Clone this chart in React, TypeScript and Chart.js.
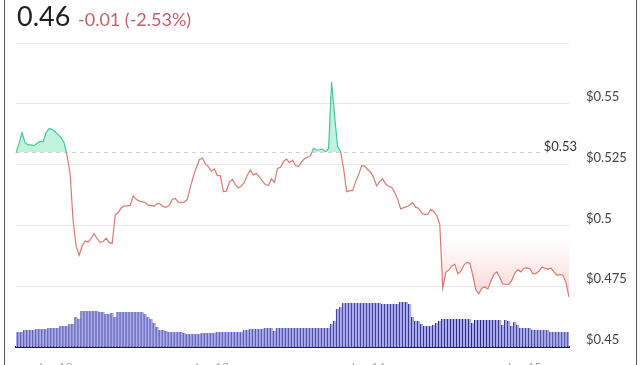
import { useEffect, useRef } from "react";
import { Chart, registerables } from "chart.js";

Chart.register(...registerables);

// ---- data ----
const PRICES = [
  0.5298, 0.5336, 0.5381, 0.534, 0.5331, 0.5331, 0.5328, 0.5338, 0.5346, 0.5344,
  0.5381, 0.5398, 0.5395, 0.5385, 0.5373, 0.5361, 0.534, 0.5287, 0.5213, 0.502,
  0.4914, 0.4877, 0.4914, 0.4936, 0.4932, 0.4947, 0.4966, 0.4945, 0.493, 0.4934,
  0.4947, 0.493, 0.4926, 0.5043, 0.5053, 0.5072, 0.508, 0.508, 0.5082, 0.5121,
  0.5107, 0.51, 0.5097, 0.5094, 0.5082, 0.5082, 0.5078, 0.509, 0.5088, 0.5076,
  0.5075, 0.5082, 0.5107, 0.5111, 0.5096, 0.5095, 0.5096, 0.5107, 0.5156, 0.5201,
  0.5238, 0.527, 0.5277, 0.5253, 0.5242, 0.5223, 0.5232, 0.5205, 0.5205, 0.5139,
  0.5141, 0.5178, 0.5189, 0.5168, 0.5154, 0.5162, 0.5178, 0.5207, 0.5227, 0.5207,
  0.5213, 0.5199, 0.5182, 0.5168, 0.5164, 0.5191, 0.5177, 0.5234, 0.5239, 0.5262,
  0.5273, 0.5258, 0.5268, 0.5246, 0.5242, 0.526, 0.5275, 0.528, 0.5287, 0.5317,
  0.531, 0.5311, 0.5314, 0.5303, 0.5316, 0.559, 0.5451, 0.5324, 0.5303, 0.5234,
  0.5139, 0.5143, 0.5143, 0.518, 0.5209, 0.5246, 0.5244, 0.523, 0.5219, 0.5197,
  0.5162, 0.518, 0.5191, 0.517, 0.516, 0.5157, 0.5135, 0.5107, 0.5068, 0.5073,
  0.5077, 0.5084, 0.5094, 0.5075, 0.507, 0.5051, 0.5045, 0.5045, 0.5066, 0.5057,
  0.5041, 0.5004, 0.4742, 0.4807, 0.4816, 0.4832, 0.484, 0.4801, 0.4811, 0.4836,
  0.4848, 0.4844, 0.4795, 0.4734, 0.4719, 0.4742, 0.4747, 0.4738, 0.477, 0.4799,
  0.4809, 0.4785, 0.4758, 0.4758, 0.4757, 0.4775, 0.4805, 0.4818, 0.4809, 0.4824,
  0.4825, 0.4822, 0.4801, 0.4803, 0.4811, 0.4828, 0.4824, 0.482, 0.4824, 0.4809,
  0.4795, 0.4798, 0.4795, 0.4765, 0.4705,
];

const VOLUMES = [
  15, 15, 15, 17, 17, 17, 17, 18, 18, 18,
  18, 19, 19, 19, 19, 21, 21, 21, 23, 23,
  30, 28, 36, 36, 36, 36, 36, 36, 35, 35,
  33, 33, 34, 30, 35, 35, 35, 35, 35, 35,
  35, 35, 35, 33, 30, 28, 24, 20, 17, 17,
  16, 15, 15, 15, 15, 15, 14, 13, 13, 13,
  13, 13, 14, 14, 14, 14, 14, 15, 15, 15,
  15, 15, 15, 15, 15, 15, 17, 17, 18, 18,
  18, 18, 18, 19, 19, 19, 16, 19, 19, 19,
  19, 19, 19, 19, 19, 19, 19, 19, 19, 19,
  19, 19, 19, 19, 19, 23, 26, 38, 40, 44,
  44, 44, 44, 44, 44, 44, 44, 44, 44, 44,
  44, 44, 43, 43, 43, 43, 43, 43, 45, 45,
  45, 43, 30, 26, 26, 23, 21, 21, 21, 22,
  24, 26, 28, 28, 28, 28, 28, 28, 28, 28,
  28, 28, 24, 27, 27, 27, 27, 27, 27, 27,
  27, 27, 22, 27, 26, 21, 25, 22, 19, 19,
  19, 19, 17, 17, 17, 17, 17, 17, 15, 15,
  15, 15, 15, 15, 15,
];

const REF_PRICE = 0.53;
const REF_LABEL = "$0.53";
const Y_MIN = 0.45;
const Y_MAX = 0.575;
const Y_STEP = 0.025;
const VOLUME_MAX = 304;
const X_TICK_INDEX = [13, 65, 117, 169];
const X_TICK_LABELS = ["Jun 12", "Jun 13", "Jun 14", "Jun 15"];
const LAST_PRICE = "0.46";
const CHANGE_TEXT = "-0.01 (-2.53%)";

const GREEN = "#46c99b";
const RED = "#d87a74";
const GREEN_FILL = "rgba(80, 215, 165, 0.35)";
const FONT = "Lato, 'Open Sans', sans-serif";

export default function App() {
  const ref = useRef<HTMLCanvasElement | null>(null);

  useEffect(() => {
    const canvas = ref.current;
    if (!canvas) return;

    const overlay = {
      id: "overlay",
      beforeDatasetDraw(chart: any, args: any) {
        if (args.index !== 0) return;
        const { ctx, chartArea, scales } = chart;
        const y = scales.y.getPixelForValue(REF_PRICE);
        const row = Math.floor(y);
        ctx.save();
        ctx.font = `13px ${FONT}`;
        const tw = ctx.measureText(REF_LABEL).width;
        const textRight = chartArea.right + 8;
        // clear the fill seam on the reference row, then draw the dashed line
        ctx.fillStyle = "#fff";
        ctx.fillRect(chartArea.left, row, chartArea.right - chartArea.left, 1);
        ctx.strokeStyle = "#d0d0d0";
        ctx.lineWidth = 1;
        ctx.setLineDash([4, 4]);
        ctx.beginPath();
        ctx.moveTo(chartArea.left, row + 0.5);
        ctx.lineTo(textRight - tw - 4, row + 0.5);
        ctx.stroke();
        ctx.setLineDash([]);
        ctx.fillStyle = "#333";
        ctx.textAlign = "right";
        ctx.textBaseline = "alphabetic";
        ctx.fillText(REF_LABEL, textRight, y - 1);
        ctx.restore();
      },
      afterDraw(chart: any) {
        const { ctx } = chart;
        ctx.save();
        ctx.textBaseline = "alphabetic";
        ctx.textAlign = "left";
        ctx.fillStyle = "#1f1f1f";
        ctx.font = `400 27px ${FONT}`;
        ctx.fillText(LAST_PRICE, 17, 26);
        ctx.fillStyle = "#c4606a";
        ctx.font = `400 18px ${FONT}`;
        ctx.fillText(CHANGE_TEXT, 78, 26);
        ctx.restore();
      },
    };

    const chart = new Chart(canvas, {
      type: "line",
      data: {
        labels: PRICES.map((_, i) => String(i)),
        datasets: [
          {
            type: "line",
            data: PRICES,
            yAxisID: "y",
            borderColor: RED,
            borderWidth: 1.2,
            pointRadius: 0,
            pointHoverRadius: 0,
            tension: 0,
            fill: { target: { value: REF_PRICE }, above: GREEN_FILL, below: "rgba(0,0,0,0)" },
            order: 0,
          } as any,
          {
            type: "bar",
            data: VOLUMES,
            yAxisID: "yv",
            backgroundColor: "#aaaaf3",
            borderColor: "#2c2c7c",
            borderWidth: { left: 1, top: 0, right: 0, bottom: 0 },
            borderSkipped: false,
            categoryPercentage: 1,
            barPercentage: 1,
            order: 1,
          } as any,
        ],
      },
      options: {
        responsive: false,
        devicePixelRatio: 1,
        animation: false,
        layout: { padding: { left: 16, top: 43, right: 0, bottom: 0 } },
        plugins: { legend: { display: false }, tooltip: { enabled: false } },
        scales: {
          x: {
            type: "category",
            offset: false,
            grid: { display: false, drawTicks: false },
            border: { display: true, color: "#1d1d3a", width: 2 },
            ticks: {
              autoSkip: false,
              maxRotation: 0,
              padding: 13,
              color: "#a8a8a8",
              font: { family: FONT, size: 12 },
              callback: (_v: any, i: number) => {
                const k = X_TICK_INDEX.indexOf(i);
                return k >= 0 ? X_TICK_LABELS[k] : "";
              },
            },
            afterFit: (s: any) => {
              s.height = 33;
            },
          },
          y: {
            type: "linear",
            position: "right",
            min: Y_MIN,
            max: Y_MAX,
            grid: { color: "#e8e8e8", drawTicks: false, lineWidth: 1 },
            border: { display: false },
            ticks: {
              stepSize: Y_STEP,
              padding: 17,
              labelOffset: -7,
              color: "#444",
              font: { family: FONT, size: 13 },
              callback: (v: any) => {
                const n = Number(Number(v).toFixed(4));
                if (n >= Y_MAX - 0.001) return "";
                return "$" + n;
              },
            },
            afterFit: (s: any) => {
              s.width = 71;
            },
          },
          yv: {
            type: "linear",
            display: false,
            min: 0,
            max: VOLUME_MAX,
          },
        },
      } as any,
      plugins: [overlay],
    });

    const ctx = chart.ctx;
    const area = chart.chartArea;
    const ys = chart.scales.y;
    const yRef = ys.getPixelForValue(REF_PRICE);
    const p = Math.min(1, Math.max(0, (yRef - area.top) / (area.bottom - area.top)));
    const lineGrad = ctx.createLinearGradient(0, area.top, 0, area.bottom);
    lineGrad.addColorStop(0, GREEN);
    lineGrad.addColorStop(p, GREEN);
    lineGrad.addColorStop(p, RED);
    lineGrad.addColorStop(1, RED);
    const fillGrad = ctx.createLinearGradient(0, ys.getPixelForValue(0.494), 0, ys.getPixelForValue(0.471));
    fillGrad.addColorStop(0, "rgba(240, 130, 130, 0)");
    fillGrad.addColorStop(1, "rgba(240, 130, 130, 0.32)");
    const ds: any = chart.data.datasets[0];
    ds.borderColor = lineGrad;
    ds.fill = { target: { value: REF_PRICE }, above: GREEN_FILL, below: fillGrad };
    chart.update("none");

    return () => chart.destroy();
  }, []);

  return (
    <div
      style={{
        position: "fixed",
        left: 0,
        top: 0,
        width: 640,
        height: 365,
        overflow: "hidden",
        background: "#fff",
      }}
    >
      <canvas ref={ref} width={640} height={380} style={{ display: "block" }} />
      <div
        style={{
          position: "absolute",
          left: 4,
          top: -10,
          width: 631,
          height: 400,
          borderLeft: "1.5px solid #555",
          borderRight: "1.5px solid #555",
          pointerEvents: "none",
        }}
      />
    </div>
  );
}
